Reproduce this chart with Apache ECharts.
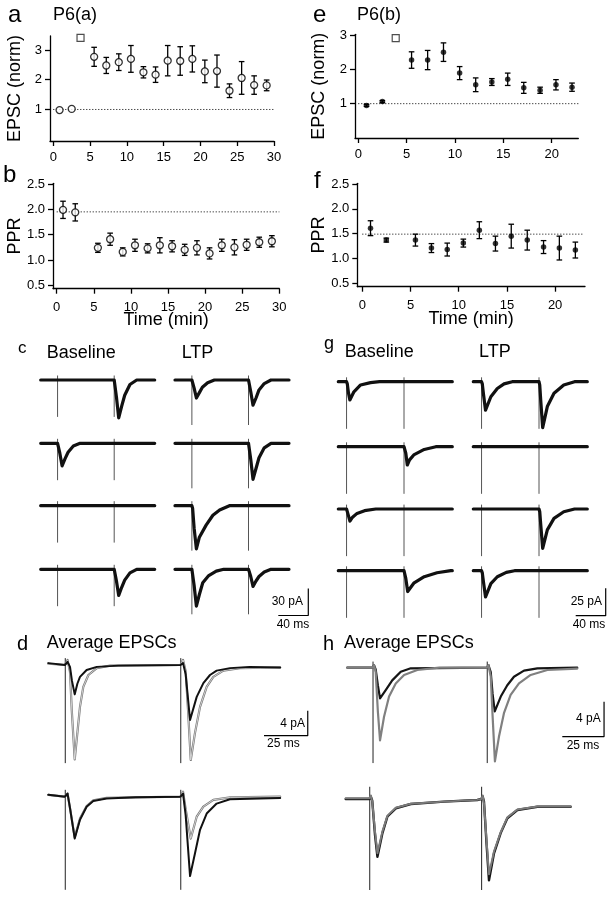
<!DOCTYPE html>
<html><head><meta charset="utf-8">
<script src="https://cdn.jsdelivr.net/npm/echarts@6/dist/echarts.min.js"></script>
<style>html,body{margin:0;padding:0;background:#fff}#c{width:608px;height:900px}</style>
</head><body><div id="c"></div><script>
// ---------------- data: time courses ----------------
const timeP6a = [0.85,2.5,5.55,7.2,8.9,10.55,12.25,13.9,15.55,17.25,18.9,20.6,22.25,23.95,25.6,27.3,29.0];
const epscP6a = [0.98,1.02,2.77,2.48,2.59,2.70,2.25,2.17,2.64,2.63,2.70,2.28,2.29,1.63,2.06,1.82,1.81];
const epscP6aErr = [0,0,0.32,0.27,0.28,0.45,0.19,0.26,0.51,0.48,0.44,0.38,0.54,0.23,0.55,0.31,0.18];
const pprP6a = [1.99,1.94,1.24,1.41,1.16,1.29,1.23,1.29,1.27,1.20,1.24,1.13,1.29,1.25,1.30,1.35,1.37];
const pprP6aErr = [0.17,0.17,0.09,0.12,0.08,0.12,0.09,0.15,0.11,0.11,0.14,0.11,0.12,0.15,0.11,0.10,0.11];
const timeP6b = [0.85,2.49,5.51,7.17,8.81,10.48,12.14,13.81,15.45,17.11,18.8,20.44,22.1];
const epscP6b = [0.95,1.06,2.27,2.27,2.50,1.89,1.55,1.63,1.71,1.46,1.39,1.55,1.48];
const epscP6bErr = [0.03,0.03,0.24,0.28,0.27,0.19,0.20,0.10,0.18,0.16,0.09,0.15,0.12];
const pprP6b = [1.61,1.37,1.37,1.21,1.18,1.31,1.57,1.30,1.45,1.37,1.23,1.21,1.17];
const pprP6bErr = [0.15,0.04,0.12,0.09,0.13,0.08,0.17,0.15,0.24,0.20,0.13,0.24,0.16];
const tetanusP6a = [3.7, 3.41];
const tetanusP6b = [3.87, 2.91];
const refEPSC = 1, refPPRa = 1.95, refPPRb = 1.49;
const ticksTime30 = [0,5,10,15,20,25,30];
const ticksTime20 = [0,5,10,15,20];
const ticksEPSC = [1,2,3];
const ticksPPR = [0.5,1.0,1.5,2.0,2.5];

// ---------------- data: example traces [ms, pA] ----------------
const stimC = [22.5, 98];
const cBase1 = [[0,0],[98,0],[99,-2],[101,-19],[104,-42],[108,-29],[112,-17],[119,-5],[128,0],[152,0]];
const cLtp1  = [[0,0],[22.5,0],[23.5,-1],[25.5,-9],[28.5,-20],[32.5,-14],[36.5,-8],[43.5,-3],[52.5,0],[98,0],[99,-1.5],[101,-13],[104,-28],[108,-20],[112,-11],[119,-4],[128,0],[152,0]];
const cBase2 = [[0,0],[22.5,0],[23.5,-1],[25.5,-11],[28.5,-25],[32.5,-17],[36.5,-10],[43.5,-3],[52.5,0],[152,0]];
const cLtp2  = [[0,0],[98,0],[99,-2],[101,-18],[104,-40],[108,-28],[112,-16],[119,-5],[128,0],[152,0]];
const cBase3 = [[0,0],[152,0]];
const cLtp3  = [[0,0],[22.5,0],[23.5,-3],[25.5,-25],[28.5,-48],[32.5,-35],[41.5,-21.6],[50.5,-10.6],[59.5,-4.8],[72.5,0],[152,0]];
const cBase4 = [[0,0],[98,0],[99,-1.5],[101,-13],[104,-29],[108,-20],[112,-12],[119,-4],[128,0],[152,0]];
const cLtp4  = [[0,0],[22.5,0],[23.5,-2],[25.5,-18],[28.5,-41],[32.5,-28],[37,-15],[45,-7],[55,-2],[65,0],[98,0],[99,-1],[101,-8],[104,-19],[108,-13],[112,-8],[119,-3],[128,0],[152,0]];
const artC = [5, -41], artCL = [5, -50];

const stimG = [11, 87.6];
const gBase1 = [[0,0],[11,0],[12,-2],[13.5,-10],[15.4,-16.7],[20.8,-9.2],[29.7,-3],[43,-0.8],[55,0],[152,0]];
const gLtp1  = [[0,0],[11,0],[12,-2],[13.5,-11],[16.3,-26],[23.4,-13.7],[32,-6.2],[41,-2],[52,0],[87.6,0],[88.6,-3],[90,-18],[92.5,-42],[98.7,-22.7],[107.6,-10.5],[120.6,-3],[135,0],[152,0]];
const gBase2 = [[0,0],[87.6,0],[88.6,-1],[90,-6],[92,-16.7],[95,-12],[100.6,-7.5],[114.6,-2.5],[130,0],[152,0]];
const gLtp2  = [[0,0],[152,0]];
const gBase3 = [[0,0],[11,0],[12,-1],[13.5,-6],[15.5,-11],[19,-7.5],[25,-4],[35,-1.5],[50,0],[152,0]];
const gLtp3  = [[0,0],[87.6,0],[88.6,-2.5],[90,-15],[92.5,-36],[98.7,-19],[107.6,-8.6],[120.6,-2.5],[135,0],[152,0]];
const gBase4 = [[0,0],[87.6,0],[88.6,-1],[90,-7],[92.5,-19],[100.6,-11.4],[114.6,-5.5],[131.6,-1.9],[150,0],[152,0]];
const gLtp4  = [[0,0],[11,0],[12,-2],[13.5,-10],[16.3,-24],[23.4,-11.8],[32,-5.5],[44,-1.5],[55,0],[152,0]];
const artG = [4, -43];

const stimD = [9.7, 75.7];
const dTopBlack = [[0,0.3],[9.5,0],[11,0.5],[12.4,-0.3],[13.5,-2.5],[15.1,-4.7],[16.6,-3],[18.1,-1.9],[21.9,-0.8],[27.7,-0.3],[40,-0.1],[75.5,0],[77,0.3],[78.5,-1.5],[81,-8.8],[84.8,-5.1],[88.6,-2.9],[92.4,-1.6],[96.2,-0.9],[103.8,-0.5],[115,-0.3],[132.5,-0.4]];
const dTopGray  = [[0,0.2],[9.5,0],[11,0.8],[12.4,-1.1],[13.4,-7.2],[15.1,-15.1],[16.6,-10.9],[18.1,-6.7],[20,-3.5],[22.9,-1.6],[27.7,-0.5],[35.3,-0.1],[75.5,0],[77,0.8],[78.5,-1],[79.8,-7],[81.4,-15.2],[83.8,-10.9],[86.7,-6.7],[90.5,-3.5],[94.3,-1.9],[100,-0.9],[109.5,-0.5],[132.5,-0.4]];
const dBotBlack = [[0,0.3],[9.5,0],[11,0.5],[12.5,-2],[15.1,-6.7],[18.1,-3.7],[21.9,-1.6],[25.7,-0.7],[33.3,-0.3],[50,-0.1],[75.5,0],[77,0.5],[78.5,-3],[81,-12.7],[83.8,-9.1],[86.7,-5.3],[90.5,-2.7],[96.2,-1.1],[103.8,-0.4],[132.5,-0.2]];
const dBotGray  = [[0,0.3],[9.5,0],[11,0.5],[12.5,-2],[15.1,-6.5],[18.1,-3.5],[21.9,-1.5],[25.7,-0.6],[33.3,-0.2],[75.5,0],[77,0.8],[78.5,-2],[81.4,-6.7],[84.8,-3.2],[88.6,-1.6],[94.3,-0.5],[104,-0.1],[132.5,0]];
const artDTop = [1.1, -15.7], artDBot = [1.1, -14.9];

const stimHTop = [15.4, 83.8], stimHBot = [14.4, 81.4];
const hTopBlack = [[0,0],[15.2,0],[16,0.3],[17,-0.2],[18.3,-2],[19.6,-3.5],[23,-2.55],[26.9,-1.45],[32,-0.46],[38,-0.07],[83.6,0],[84.5,0.3],[85.9,-0.5],[87,-3],[88.3,-5],[91.9,-3.3],[95.8,-2],[99.8,-1.03],[105.8,-0.34],[113.8,-0.07],[137.7,0]];
const hTopGray  = [[0,0],[15.2,0],[16,0.3],[17,-0.5],[18.3,-5],[19.6,-8.3],[22,-5.6],[25,-3.3],[29,-1.8],[34,-0.83],[41.9,-0.26],[55,0],[83.6,0],[84.5,0.3],[85.9,-1],[87,-5.5],[88.4,-10.7],[90.8,-7.9],[93.8,-5.2],[97.8,-3.1],[102.8,-1.8],[109.8,-0.83],[119.8,-0.26],[137.7,-0.1]];
const hBotBlack = [[0,0],[14.2,0],[15,0.3],[15.9,-0.2],[17.5,-4],[19,-6.6],[22,-3.9],[25,-2.0],[30,-1.06],[39,-0.57],[58.9,-0.3],[78.8,-0.11],[81.2,0],[82,0.3],[82.8,-0.3],[84.3,-5],[85.8,-9.3],[88.8,-6.2],[92.8,-3.9],[96.8,-2.2],[102.8,-1.26],[114.8,-0.88],[134.7,-0.88]];
const hBotGray  = [[0,0.1],[14.2,0.1],[15,0.4],[15.9,-0.3],[17.5,-3.6],[19,-6.2],[22,-3.7],[25,-1.9],[30,-1.0],[39,-0.55],[58.9,-0.3],[78.8,-0.1],[81.2,0],[82,0.4],[82.8,-0.5],[84.3,-4.6],[85.8,-8.6],[88.8,-6],[92.8,-3.8],[96.8,-2.1],[102.8,-1.2],[114.8,-0.85],[134.7,-0.85]];
const artHTop = [0.7, -10.9], artHBot = [1.4, -10.4];

// scale bars [ms, pA]
const scaleC = [40, 30], scaleG = [40, 25], scaleD = [25, 4], scaleH = [25, 4];

// ---------------- build ----------------
const FONT = '"Liberation Sans", Arial, Helvetica, sans-serif';
const grids = [], xAxes = [], yAxes = [], series = [], graphic = [];
function addGrid(box, xa, ya) {
  grids.push(Object.assign({containLabel:false, outerBoundsMode:'none', show:false}, box));
  const i = grids.length - 1;
  xAxes.push(Object.assign({gridIndex:i}, xa));
  yAxes.push(Object.assign({gridIndex:i}, ya));
  return i;
}
const lineSt = {show:true, onZero:false, lineStyle:{color:'#000', width:1.3}};
const nameSt = {fontFamily:FONT, fontSize:18, color:'#000'};
function errRender(params, api) {
  const x = api.value(0), lo = api.value(1), hi = api.value(2);
  if (hi - lo < 1e-9) return null;
  const a = api.coord([x, lo]), b = api.coord([x, hi]);
  const w = 2.8, st = {stroke:'#000', lineWidth:1.3};
  return {type:'group', children:[
    {type:'line', shape:{x1:a[0], y1:a[1], x2:b[0], y2:b[1]}, style:st},
    {type:'line', shape:{x1:a[0]-w, y1:a[1], x2:a[0]+w, y2:a[1]}, style:st},
    {type:'line', shape:{x1:b[0]-w, y1:b[1], x2:b[0]+w, y2:b[1]}, style:st}
  ]};
}
function scatterPanel(o) {
  const gi = addGrid({left:o.left, top:o.top, width:o.width, height:o.height},
    {type:'value', min:o.xMin, max:o.xMax, axisLine:lineSt, splitLine:{show:false},
     axisTick:{show:true, length:5, lineStyle:{color:'#000', width:1.3}, customValues:o.xTicks},
     axisLabel:{show:true, color:'#000', fontFamily:FONT, fontSize:13, margin:o.xMargin, customValues:o.xTicks},
     name:o.xName || '', nameLocation:'middle', nameGap:o.xNameGap || 0, nameTextStyle:nameSt, nameMoveOverlap:false},
    {type:'value', min:o.yMin, max:o.yMax, axisLine:lineSt, splitLine:{show:false},
     axisTick:{show:true, length:5, lineStyle:{color:'#000', width:1.3}, customValues:o.yTicks},
     axisLabel:{show:true, color:'#000', fontFamily:FONT, fontSize:13, margin:8, customValues:o.yTicks, formatter:o.yFmt},
     name:o.yName, nameLocation:'middle', nameGap:o.yNameGap, nameRotate:90, nameTextStyle:nameSt, nameMoveOverlap:false});
  series.push({type:'line', xAxisIndex:gi, yAxisIndex:gi, data:[[0,o.ref],[o.refEnd,o.ref]], symbol:'none',
    lineStyle:{type:[1,2], color:'#000', width:1}, z:1, silent:true});
  series.push({type:'custom', xAxisIndex:gi, yAxisIndex:gi, renderItem:errRender, z:2, silent:true,
    encode:{x:0, y:[1,2]}, data:o.t.map((t,i)=>[t, o.v[i]-o.e[i], o.v[i]+o.e[i]])});
  series.push({type:'scatter', xAxisIndex:gi, yAxisIndex:gi, data:o.t.map((t,i)=>[t, o.v[i]]), symbol:'circle',
    symbolSize:o.filled ? 5.5 : 7, z:3, silent:true,
    itemStyle:o.filled ? {color:'#000'} : {color:'#fff', borderColor:'#000', borderWidth:1.3}});
  if (o.tet) series.push({type:'scatter', xAxisIndex:gi, yAxisIndex:gi, data:[o.tet], symbol:'rect', symbolSize:7, z:3, silent:true,
    itemStyle:{color:'#fff', borderColor:'#222', borderWidth:1.2}});
}
function artRender(params, api) {
  const a = api.coord([api.value(0), api.value(1)]), b = api.coord([api.value(0), api.value(2)]);
  return {type:'line', shape:{x1:a[0], y1:a[1], x2:b[0], y2:b[1]}, style:{stroke:api.visual('color'), lineWidth:1}};
}
function tracePanel(left, base, width, pxMs, pxPA, above, below, lines, stims, art, artColor) {
  const gi = addGrid({left:left, top:base-above, width:width, height:above+below},
    {type:'value', show:false, min:0, max:width/pxMs},
    {type:'value', show:false, min:-below/pxPA, max:above/pxPA});
  series.push({type:'custom', xAxisIndex:gi, yAxisIndex:gi, renderItem:artRender, z:1, silent:true,
    itemStyle:{color:artColor}, encode:{x:0, y:[1,2]}, data:stims.map(s=>[s, art[0], art[1]])});
  lines.forEach(l => series.push({type:'line', xAxisIndex:gi, yAxisIndex:gi, data:l[0], symbol:'none', silent:true,
    z:2, lineStyle:{color:l[1], width:l[2], join:'round', cap:'round'}}));
}
function scaleBar(left, bottom, sb, pxMs, pxPA) {
  const w = sb[0]*pxMs, h = sb[1]*pxPA;
  const gi = addGrid({left:left, top:bottom-h, width:w, height:h},
    {type:'value', show:false, min:0, max:sb[0]}, {type:'value', show:false, min:0, max:sb[1]});
  series.push({type:'line', xAxisIndex:gi, yAxisIndex:gi, data:[[0,0],[sb[0],0],[sb[0],sb[1]]], symbol:'none', clip:false,
    silent:true, lineStyle:{color:'#000', width:1.2}});
}

// panels a, b, e, f
scatterPanel({left:50, top:36, width:224, height:105, xMin:-0.45, xMax:30, yMin:-0.06, yMax:3.47,
  xTicks:ticksTime30, yTicks:ticksEPSC, xMargin:10, yName:'EPSC (norm)', yNameGap:26,
  t:timeP6a, v:epscP6a, e:epscP6aErr, ref:refEPSC, refEnd:30, tet:tetanusP6a, filled:false});
scatterPanel({left:53, top:183.3, width:226.3, height:105.4, xMin:-0.5, xMax:30, yMin:0.433, yMax:2.514,
  xTicks:ticksTime30, yTicks:ticksPPR, yFmt:v=>v.toFixed(1), xMargin:12, yName:'PPR', yNameGap:29,
  xName:'Time (min)', xNameGap:22,
  t:timeP6a, v:pprP6a, e:pprP6aErr, ref:refPPRa, refEnd:30, tet:null, filled:false});
scatterPanel({left:355, top:34.3, width:223.3, height:103.7, xMin:-0.34, xMax:22.75, yMin:0, yMax:3.02,
  xTicks:ticksTime20, yTicks:ticksEPSC, xMargin:10, yName:'EPSC (norm)', yNameGap:27,
  t:timeP6b, v:epscP6b, e:epscP6bErr, ref:refEPSC, refEnd:22.8, tet:tetanusP6b, filled:true});
scatterPanel({left:357.3, top:183.3, width:227.7, height:103.4, xMin:-0.52, xMax:23.1, yMin:0.432, yMax:2.514,
  xTicks:ticksTime20, yTicks:ticksPPR, yFmt:v=>v.toFixed(1), xMargin:12, yName:'PPR', yNameGap:29,
  xName:'Time (min)', xNameGap:23,
  t:timeP6b, v:pprP6b, e:pprP6bErr, ref:refPPRb, refEnd:23, tet:null, filled:true});

// panels c, g
const cRows = [380, 443.3, 505.7, 569.3], gRows = [381.7, 446.7, 509, 570.7];
const cBase = [cBase1,cBase2,cBase3,cBase4], cLtp = [cLtp1,cLtp2,cLtp3,cLtp4];
const gBase = [gBase1,gBase2,gBase3,gBase4], gLtp = [gLtp1,gLtp2,gLtp3,gLtp4];
const TR = '#111', TW = 3.2;
cRows.forEach((y,i) => {
  tracePanel(40.7, y, 114, 0.75, 0.9, 10, 50, [[cBase[i], TR, TW]], stimC, artC, '#555');
  tracePanel(175, y, 114, 0.75, 0.9, 10, 50, [[cLtp[i], TR, TW]], stimC, artCL, '#555');
});
gRows.forEach((y,i) => {
  tracePanel(338.3, y, 114, 0.75, 1.096, 10, 50, [[gBase[i], TR, TW]], stimG, artG, '#555');
  tracePanel(473.3, y, 114, 0.75, 1.096, 10, 50, [[gLtp[i], TR, TW]], stimG, artG, '#555');
});
scaleBar(278.3, 615.5, scaleC, 0.75, 0.9);
scaleBar(575.7, 615.7, scaleG, 0.75, 1.096);

// panels d, h  (d's LTP average is a thin grey line with darker edges)
tracePanel(48.3, 665, 232, 1.75, 6.25, 12, 100,
  [[dTopGray,'#777',2.2],[dTopGray,'#e6e6e6',0.8],[dTopBlack,'#111',2]], stimD, artDTop, '#222');
tracePanel(48.3, 796.7, 232, 1.75, 6.25, 12, 100,
  [[dBotGray,'#777',2.2],[dBotGray,'#e6e6e6',0.8],[dBotBlack,'#111',2]], stimD, artDBot, '#222');
tracePanel(347.3, 667.7, 230, 1.67, 8.75, 12, 100, [[hTopBlack,'#151515',2.2],[hTopGray,'#808080',2.2]], stimHTop, artHTop, '#222');
tracePanel(345.7, 799, 225, 1.67, 8.75, 12, 100, [[hBotBlack,'#151515',2.4],[hBotGray,'#7a7a7a',2]], stimHBot, artHBot, '#222');
scaleBar(264, 735.7, scaleD, 1.75, 6.25);
scaleBar(562.3, 736.7, scaleH, 1.67, 8.75);

// texts
const texts = [
  ['a', 8, 15.6, 24, 'left'], ['P6(a)', 53, 14.7, 18, 'left'],
  ['b', 3, 175, 24, 'left'],
  ['e', 313, 15.6, 24, 'left'], ['P6(b)', 357, 14.7, 18, 'left'],
  ['f', 314, 181.6, 24, 'left'],
  ['c', 18, 348, 17, 'left'], ['Baseline', 46.7, 353, 18, 'left'], ['LTP', 181.7, 353, 18, 'left'],
  ['g', 324, 343.7, 18, 'left'], ['Baseline', 344.7, 352, 18, 'left'], ['LTP', 479, 352, 18, 'left'],
  ['d', 17, 644.7, 20, 'left'], ['Average EPSCs', 46.7, 643, 18, 'left'],
  ['h', 323, 644.7, 20, 'left'], ['Average EPSCs', 344, 643, 18, 'left'],
  ['30 pA', 303, 601.7, 12, 'right'], ['40 ms', 293, 625, 12, 'center'],
  ['25 pA', 602, 601.7, 12, 'right'], ['40 ms', 589, 625, 12, 'center'],
  ['4 pA', 305, 723.3, 12, 'right'], ['25 ms', 283.3, 744, 12, 'center'],
  ['4 pA', 600.7, 719, 12, 'right'], ['25 ms', 583, 746, 12, 'center']
];
texts.forEach(t => graphic.push({type:'text', x:t[1], y:t[2], silent:true,
  style:{text:t[0], font:t[3] + 'px ' + FONT, fill:'#000', align:t[4], textAlign:t[4],
         verticalAlign:'middle', textVerticalAlign:'middle'}}));

const chart = echarts.init(document.getElementById('c'), null, {renderer:'canvas', width:608, height:900});
chart.setOption({
  animation:false, backgroundColor:'#fff',
  grid:grids, xAxis:xAxes, yAxis:yAxes, series:series, graphic:graphic,
  tooltip:{show:false}
});
</script></body></html>
